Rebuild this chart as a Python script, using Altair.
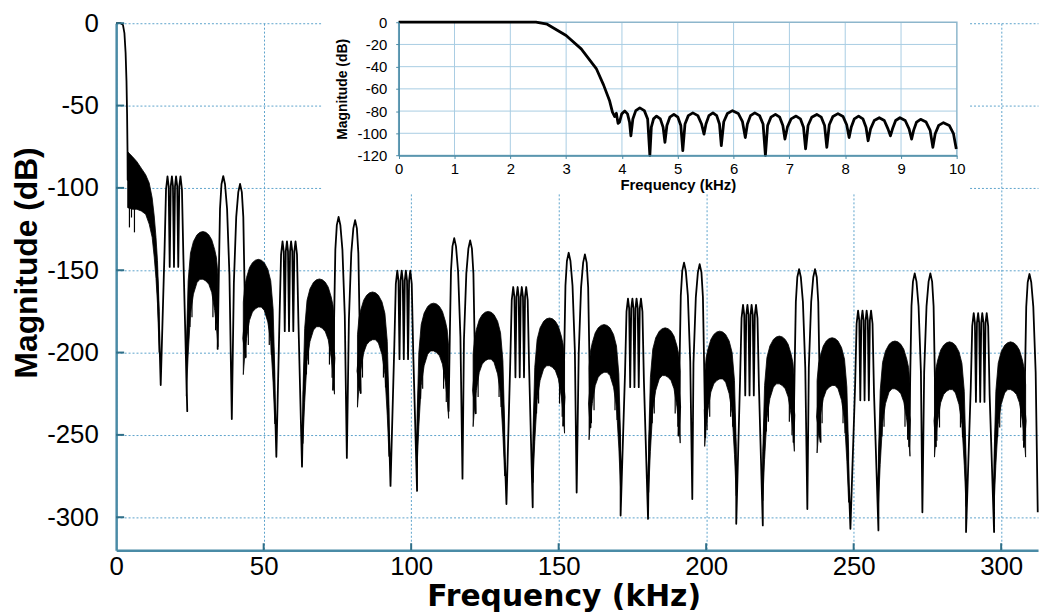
import altair as alt
import pandas as pd

# ---------------- main response (kHz, dB) ----------------
PASS_F = [0.0, 1.5, 2.3, 2.8, 3.2, 3.5, 3.7, 3.85]
PASS_DB = [0.0, 0.0, -1.0, -6.0, -18.0, -35.0, -55.0, -78.0]

BAND0_F = [3.9, 5.5, 7.0, 8.5, 10.0, 11.2, 12.2, 12.9, 13.5, 14.0, 14.6]
BAND0_TOP = [-78, -81, -84, -88, -92, -97, -106, -117, -130, -144, -175]
BAND0_BOT = [-112, -113, -113, -114, -116, -122, -130, -142, -155, -170, -200]
BAND0_SPIKE_F = [4.5, 5.2, 6.2]
BAND0_SPIKE_DB = [-124, -118, -127]

COMB_CENTER = [19.6, 58.6, 97.5, 136.8, 175.7, 214.7, 253.7, 292.9]
COMB_TOP = [-93, -132.5, -150.3, -160.2, -167.2, -171.1, -174.5, -176]
COMB_INNER = [-148, -187, -204, -215, -221, -226, -229, -230]
DIP_L_F = [15.1, 54.3, 93.0, 132.3, 171.0, 210.2, 248.9, 288.1]
DIP_L_DB = [-219.7, -263.3, -281, -292, -299, -304, -307, -309]
DIP_R_F = [24.1, 63.0, 102.0, 141.2, 180.3, 219.2, 258.4, 297.6]
DIP_R_DB = [-235.6, -269.3, -284, -294, -301, -305, -308, -309]
COMB_OFF = [-3.2, -2.7, -2.2, -1.8, -1.45, -1.1, -0.7, -0.35, 0.0, 0.35, 0.7, 1.1, 1.45, 1.8, 2.2, 2.7, 3.2]
COMB_DROP = [-45, -8, 0, -6, "inner", -6, 0, -6, "inner", -6, 0, -6, "inner", -6, 0, -8, -50]

TWIN_L_F = [36.3, 75.4, 114.6, 153.4, 192.5, 231.5, 270.7, 309.6]
TWIN_L_DB = [-92.8, -117.6, -130.5, -139.4, -145.4, -149.3, -151.9, -152.3]
TWIN_R_F = [42.0, 81.0, 120.0, 158.9, 197.8, 236.9, 276.0]
TWIN_R_DB = [-97.6, -119.6, -131.9, -140.4, -146.3, -149.3, -151.9]
TWIN_DIP_F = [39.2, 78.2, 117.4, 156.1, 195.3, 234.3, 273.3, 312.4]
TWIN_DIP_DB = [-240.4, -264, -276.6, -285, -289, -295, -297, -297]
LOBE_OUT_OFF = [-1.9, -1.5, -1.1, -0.6]
LOBE_OUT_DROP = [-105, -60, -20, -5]
LOBE_IN_OFF = [0.6, 1.3, 2.1]
LOBE_IN_DROP = [-5, -20, -60]

HUMP_B_F = [29.4, 68.9, 107.6, 146.9, 186.1, 224.8, 264.0, 303.2]
HUMP_B_DB = [-126.5, -155.3, -170, -179, -185, -190, -193, -193.5]
HUMP_A_F = [48.2, 86.9, 126.1, 165.4, 204.6, 242.7, 282.5]
HUMP_A_DB = [-143.4, -163.2, -175, -183, -187, -191, -193.5]
HUMP_OFF = [-5.6, -5.0, -4.2, -3.2, -2.0, -1.0, 0.0, 1.0, 2.0, 3.0, 4.0, 4.6, 5.1]
HUMP_TOP = [-70, -30, -13, -6, -2, -0.5, 0, -0.5, -2, -5, -11, -16, -26]
HUMP_BOT = [-100, -75, -50, -38, -31, -29, -29, -30, -32, -37, -48, -58, -70]
HUMP_SPIKE_OFF = [-4.4, -3.7, 3.4, 4.3]
HUMP_SPIKE_START = [-40, -30, -30, -42]
HUMP_SPIKE_END = [-58, -52, -52, -60]

X_TICKS = [0, 50, 100, 150, 200, 250, 300]
Y_TICKS = [0, -50, -100, -150, -200, -250, -300]

# ---------------- inset (kHz, dB) ----------------
INSET_HEAD_F = [0.0, 1.0, 2.0, 2.46, 2.66, 3.0, 3.27, 3.54, 3.67, 3.78, 3.83, 3.87, 3.90]
INSET_HEAD_DB = [0, 0, 0, 0, -1.8, -12, -24, -41.7, -56.4, -71, -81, -85, -82]
INSET_DIP_F = [3.93, 4.16, 4.50, 4.77, 5.09, 5.47, 5.78, 6.21, 6.57, 6.92, 7.29, 7.67, 8.07, 8.41, 8.81, 9.19, 9.57, 9.99]
INSET_DIP_DB = [-91, -102.3, -120, -108.2, -115.6, -100.8, -111.1, -103.8, -120, -105.2, -114.1, -112.6, -103.8, -106.7, -102.3, -105.2, -112.6, -114.1]
INSET_PEAK_F = [4.05, 4.32, 4.62, 4.93, 5.27, 5.63, 5.98, 6.38, 6.75, 7.12, 7.49, 7.87, 8.24, 8.61, 8.98, 9.35, 9.76]
INSET_PEAK_DB = [-80, -77.1, -84.5, -83, -81.6, -81.6, -79.6, -81.6, -83, -84.5, -83, -82.3, -84.5, -86, -86, -87.4, -90.4]
ARCH_FRAC = [0.22, 0.55]
ARCH_DROP = [-10, -2.5]
INSET_X_TICKS = list(range(0, 11))
INSET_Y_TICKS = [0, -20, -40, -60, -80, -100, -120]

# ---------------- build tables ----------------
trace, bands, spikes = [], [], []

def add(f, db):
    trace.append({"f": f, "db": db, "i": len(trace)})

for f, d in zip(PASS_F, PASS_DB):
    add(f, d)
for f, t, b in zip(BAND0_F, BAND0_TOP, BAND0_BOT):
    bands.append({"f": f, "top": t, "bot": b, "g": 0})
    add(f, (t + b) / 2)
for f, d in zip(BAND0_SPIKE_F, BAND0_SPIKE_DB):
    spikes.append({"f": f, "a": -105, "b": d})

def comb(k):
    add(DIP_L_F[k], DIP_L_DB[k])
    for off, drop in zip(COMB_OFF, COMB_DROP):
        add(COMB_CENTER[k] + off, COMB_INNER[k] if drop == "inner" else COMB_TOP[k] + drop)
    add(DIP_R_F[k], DIP_R_DB[k])

def hump(pf, pdb, mirror, gid):
    offs, tops, bots = HUMP_OFF, HUMP_TOP, HUMP_BOT
    sp_off = HUMP_SPIKE_OFF
    if mirror:
        offs = [-o for o in reversed(HUMP_OFF)]
        tops = list(reversed(HUMP_TOP))
        bots = list(reversed(HUMP_BOT))
        sp_off = [-o for o in HUMP_SPIKE_OFF]
    for o, t, b in zip(offs, tops, bots):
        bands.append({"f": pf + o, "top": pdb + t, "bot": pdb + b, "g": gid})
        add(pf + o, pdb + (t + b) / 2)
    for o, s, e in zip(sp_off, HUMP_SPIKE_START, HUMP_SPIKE_END):
        spikes.append({"f": pf + o, "a": pdb + s, "b": pdb + e})

def twin(j):
    lf, ld = TWIN_L_F[j], TWIN_L_DB[j]
    for o, d in zip(LOBE_OUT_OFF, LOBE_OUT_DROP):
        add(lf + o, ld + d)
    add(lf, ld)
    for o, d in zip(LOBE_IN_OFF, LOBE_IN_DROP):
        add(lf + o, ld + d)
    add(TWIN_DIP_F[j], TWIN_DIP_DB[j])
    if j < len(TWIN_R_F):
        rf, rd = TWIN_R_F[j], TWIN_R_DB[j]
        for o, d in zip(reversed(LOBE_IN_OFF), reversed(LOBE_IN_DROP)):
            add(rf - o, rd + d)
        add(rf, rd)
        for o, d in zip(reversed(LOBE_OUT_OFF), reversed(LOBE_OUT_DROP)):
            add(rf - o, rd + d)

comb(0)
hump(HUMP_B_F[0], HUMP_B_DB[0], False, 1)
twin(0)
g = 2
for k in range(1, 8):
    hump(HUMP_A_F[k - 1], HUMP_A_DB[k - 1], True, g); g += 1
    comb(k)
    hump(HUMP_B_F[k], HUMP_B_DB[k], False, g); g += 1
    twin(k)

inset = []
for f, d in zip(INSET_HEAD_F, INSET_HEAD_DB):
    inset.append({"f": f, "db": d})
for k in range(len(INSET_PEAK_F)):
    d0f, d0 = INSET_DIP_F[k], INSET_DIP_DB[k]
    pf, pd_ = INSET_PEAK_F[k], INSET_PEAK_DB[k]
    d1f = INSET_DIP_F[k + 1]
    inset.append({"f": d0f, "db": d0})
    for fr, dr in zip(ARCH_FRAC, ARCH_DROP):
        inset.append({"f": d0f + fr * (pf - d0f), "db": pd_ + dr})
    inset.append({"f": pf, "db": pd_})
    for fr, dr in zip(reversed(ARCH_FRAC), reversed(ARCH_DROP)):
        inset.append({"f": d1f - fr * (d1f - pf), "db": pd_ + dr})
inset.append({"f": INSET_DIP_F[-1], "db": INSET_DIP_DB[-1]})
for i, r in enumerate(inset):
    r["i"] = i

trace_df = pd.DataFrame(trace)
band_df = pd.DataFrame(bands)
spike_df = pd.DataFrame(spikes)
inset_df = pd.DataFrame(inset)

# ---------------- styling ----------------
W, H = 929, 531
AXIS_C = "#4a8ba6"
GRID_C = "#5ea3cc"
FONT = "Liberation Sans"
LBL = "'' + datum.value"

mx = alt.Scale(domain=[0, 312.5], nice=False, zero=False)
my = alt.Scale(domain=[-320, 0], nice=False, zero=False)

x_axis = alt.Axis(values=X_TICKS, grid=True, gridDash=[2, 2], gridColor=GRID_C, gridWidth=1,
                  domainColor=AXIS_C, domainWidth=2.5, ticks=False, labelFlush=False, labelExpr=LBL,
                  labelFont=FONT, labelFontSize=26, labelColor="black", labelPadding=4,
                  title="Frequency (kHz)", titleFont="DejaVu Sans", titleFontSize=30, titleFontWeight="bold",
                  titleColor="black", titleX=451, titleY=56, titleBaseline="alphabetic")
y_axis = alt.Axis(values=Y_TICKS, grid=True, gridDash=[2, 2], gridColor=GRID_C, gridWidth=1,
                  domainColor=AXIS_C, domainWidth=2.5, ticks=False, labelFlush=False, labelExpr=LBL,
                  labelFont=FONT, labelFontSize=26, labelColor="black", labelPadding=18,
                  title="Magnitude (dB)", titleFont=FONT, titleFontSize=32, titleFontWeight="bold",
                  titleColor="black", titleAngle=270, titleX=-90, titleY=241,
                  titleAlign="center", titleBaseline="middle")

band_layer = alt.Chart(band_df).mark_area(color="black", stroke="black", strokeWidth=0.8).encode(
    x=alt.X("f:Q", scale=mx, axis=x_axis),
    y=alt.Y("top:Q", scale=my, axis=y_axis),
    y2="bot:Q",
    detail="g:N",
)
spike_layer = alt.Chart(spike_df).mark_rule(color="black", strokeWidth=1.2).encode(
    x=alt.X("f:Q", scale=mx, axis=x_axis),
    y=alt.Y("a:Q", scale=my, axis=y_axis),
    y2="b:Q",
)
trace_layer = alt.Chart(trace_df).mark_line(color="black", strokeWidth=1.8, strokeJoin="round").encode(
    x=alt.X("f:Q", scale=mx, axis=x_axis),
    y=alt.Y("db:Q", scale=my, axis=y_axis),
    order="i:Q",
)
xt_layer = alt.Chart(pd.DataFrame({"t": X_TICKS[1:]})).mark_rule(color="#2f6f88", strokeWidth=2).encode(
    x=alt.X("t:Q", scale=mx, axis=x_axis),
    y=alt.datum(-320, scale=my, axis=y_axis), y2=alt.datum(-315.8))
yt_layer = alt.Chart(pd.DataFrame({"t": Y_TICKS})).mark_rule(color="#2f6f88", strokeWidth=2).encode(
    y=alt.Y("t:Q", scale=my, axis=y_axis),
    x=alt.datum(0, scale=mx, axis=x_axis), x2=alt.datum(2.7))
white_box = alt.Chart(pd.DataFrame({"a": [0]})).mark_rect(color="white").encode(
    x=alt.datum(70, scale=mx, axis=x_axis), x2=alt.datum(289.2),
    y=alt.datum(13, scale=my, axis=y_axis), y2=alt.datum(-103.7))

main = alt.layer(band_layer, spike_layer, trace_layer, xt_layer, yt_layer, white_box)

# inset scales (pixel ranges inside the main plot)
ix = alt.Scale(domain=[0, 10], range=[284.7, 847.2], nice=False, zero=False)
iy = alt.Scale(domain=[-120, 0], range=[133.3, -1], nice=False, zero=False)
IGRID = "#a8cde3"

ix_axis = alt.Axis(
    orient="bottom", offset=-397.7, values=INSET_X_TICKS, grid=False, labelFlush=False,
    domainColor=AXIS_C, domainWidth=1.5, tickColor=AXIS_C, tickSize=3,
    labelFont=FONT, labelFontSize=15, labelColor="black", labelPadding=3,
    title="Frequency (kHz)", titleFont=FONT, titleFontSize=15, titleFontWeight="bold",
    titleColor="black", titlePadding=1, zindex=1)
iy_axis = alt.Axis(
    orient="left", offset=-284.7, values=INSET_Y_TICKS, grid=False, labelExpr=LBL,
    domainColor=AXIS_C, domainWidth=1.5, tickColor=AXIS_C, tickSize=3, labelFlush=False,
    labelFont=FONT, labelFontSize=15, labelColor="black", labelPadding=9,
    title="Magnitude (dB)", titleFont=FONT, titleFontSize=14, titleFontWeight="bold",
    titleColor="black", titlePadding=8, zindex=1)

igx = alt.Chart(pd.DataFrame({"t": INSET_X_TICKS[1:-1]})).mark_rule(color=IGRID, strokeWidth=1).encode(
    x=alt.X("t:Q", scale=ix, axis=ix_axis),
    y=alt.datum(-120, scale=iy, axis=iy_axis), y2=alt.datum(0))
igy = alt.Chart(pd.DataFrame({"t": INSET_Y_TICKS[1:-1]})).mark_rule(color=IGRID, strokeWidth=1).encode(
    y=alt.Y("t:Q", scale=iy, axis=iy_axis),
    x=alt.datum(0, scale=ix, axis=ix_axis), x2=alt.datum(10))
iframe = alt.Chart(pd.DataFrame({"a": [0]})).mark_rect(fill=None, stroke="#8db6cc", strokeWidth=1.5).encode(
    x=alt.datum(0, scale=ix, axis=ix_axis), x2=alt.datum(10),
    y=alt.datum(-120, scale=iy, axis=iy_axis), y2=alt.datum(0))
iline = alt.Chart(inset_df).mark_line(color="black", strokeWidth=2.8, strokeJoin="round").encode(
    x=alt.X("f:Q", scale=ix, axis=ix_axis),
    y=alt.Y("db:Q", scale=iy, axis=iy_axis),
    order="i:Q",
)
inset_chart = alt.layer(igx, igy, iframe, iline)

chart = alt.layer(main, inset_chart).resolve_scale(x="independent", y="independent").properties(
    width=W, height=H,
    autosize=alt.AutoSizeParams(type="none"),
    padding={"left": 109, "top": 13, "right": 4, "bottom": 62},
    background="white",
).configure_view(stroke=None)

chart.save("out.html", embed_options={"renderer": "svg", "actions": False})
